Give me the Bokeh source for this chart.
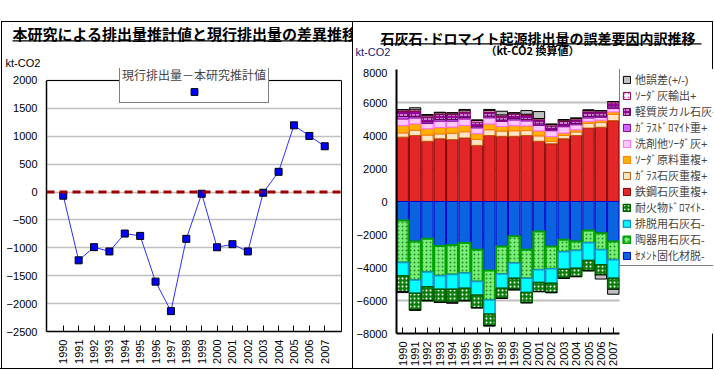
import math
from bokeh.plotting import figure
from bokeh.models import (ColumnDataSource, Range1d, Label, Legend,
                          LegendItem, Span, FixedTicker, LinearAxis, BoxAnnotation)
from bokeh.layouts import gridplot
from bokeh.embed import file_html
from bokeh.resources import INLINE

# ---------------- data ----------------
years = [str(y) for y in range(1990, 2008)]

# left chart: current emissions - this study's estimate (kt-CO2)
diff = [-65, -1224, -988, -1065, -744, -786, -1606, -2135, -839, -30,
        -990, -935, -1065, -12, 363, 1196, 1006, 821]
left_y_ticks = [2000, 1500, 1000, 500, 0, -500, -1000, -1500, -2000, -2500]
left_y_labels = ["2000", "1500", "1000", "500", "0", "−500", "−1000",
                 "−1500", "−2000", "−2500"]

# right chart: error factor breakdown (kt-CO2)
steel      = [3900, 4000, 3650, 3800, 3750, 3850, 3400, 4000, 3950, 3950,
              4000, 3650, 3500, 3800, 4000, 4450, 4500, 4900]
glass_lime = [260, 320, 380, 300, 380, 380, 360, 350, 320, 340,
              300, 330, 150, 200, 220, 280, 300, 380]
soda_raw   = [440, 380, 380, 380, 380, 380, 350, 350, 280, 300,
              280, 300, 280, 150, 130, 130, 130, 150]
detergent  = [400, 360, 320, 390, 360, 390, 350, 370, 300, 350,
              300, 330, 360, 380, 300, 200, 170, 200]
glass_dol  = [150, 100, 100, 100, 100, 100, 100, 100, 80, 100,
              90, 90, 90, 100, 80, 90, 80, 100]
light_cal  = [300, 300, 300, 300, 300, 300, 250, 250, 240, 250,
              240, 250, 200, 220, 220, 280, 240, 250]
soda_export = [110, 100, 100, 100, 100, 100, 100, 100, 80, 80,
               80, 80, 80, 80, 80, 80, 80, 80]
other_err  = [-60, 120, 40, 40, -60, 80, 40, 60, 220, -50,
              220, 420, 40, 40, 40, 50, -250, -300]
cement     = [-1150, -2420, -2260, -2700, -2630, -2520, -2920, -4180, -2720, -2100,
              -2920, -1820, -2720, -2320, -2420, -1760, -1920, -2420]
ceramic    = [-2550, -2330, -2020, -1800, -1790, -1820, -1930, -1790, -1680, -1630,
              -1730, -2310, -1360, -730, -550, -740, -1000, -1110]
desulf     = [-800, -810, -880, -820, -900, -920, -810, -850, -860, -920,
              -870, -780, -880, -1050, -1070, -1080, -920, -1120]
refractory = [-960, -1020, -850, -790, -790, -750, -780, -710, -610, -670,
              -610, -550, -560, -550, -510, -610, -610, -670]
right_y_ticks = [8000, 6000, 4000, 2000, 0, -2000, -4000, -6000, -8000]
right_y_labels = ["8000", "6000", "4000", "2000", "0", "−2000", "−4000",
                  "−6000", "−8000"]

legend_labels = {
    "other": "他誤差(+/-)",
    "soda_export": "ｿｰﾀﾞ灰輸出+",
    "light_cal": "軽質炭カル石灰+",
    "glass_dol": "ｶﾞﾗｽﾄﾞﾛﾏｲﾄ重+",
    "detergent": "洗剤他ｿｰﾀﾞ灰+",
    "soda_raw": "ｿｰﾀﾞ原料重複+",
    "glass_lime": "ｶﾞﾗｽ石灰重複+",
    "steel": "鉄鋼石灰重複+",
    "refractory": "耐火物ﾄﾞﾛﾏｲﾄ-",
    "desulf": "排脱用石灰石-",
    "ceramic": "陶器用石灰石-",
    "cement": "ｾﾒﾝﾄ固化材脱-",
}
left_title = "本研究による排出量推計値と現行排出量の差異推移"
left_legend_title = "現行排出量－本研究推計値"
right_title = "石灰石･ドロマイト起源排出量の誤差要因内訳推移"
right_subtitle = "（kt-CO2 換算値）"
unit_text = "kt-CO2"

JP = "Noto Sans CJK JP"
JP_COMPACT = "Liberation Sans, Noto Sans CJK JP"
NUM = "Liberation Sans"
HH = 68          # header height (includes blank strip above the chart boxes)
CH = 301         # chart figure height
LW, RW = 352, 361

G = "linear-gradient(#000,#000)"
def bg(*parts):
    return {"background": ", ".join(f"{G} {p} no-repeat" for p in parts)}


def no_align(f):
    if "frame_align" in f.properties():
        f.frame_align = False


def header(width, styles):
    h = figure(width=width, height=HH, output_backend="svg", toolbar_location=None,
               x_range=Range1d(0, 1), y_range=Range1d(0, 1),
               x_axis_type=None, y_axis_type=None, min_border=0)
    h.grid.visible = False
    h.outline_line_color = None
    h.title.visible = False
    h.border_fill_alpha = 0
    h.background_fill_alpha = 0
    h.styles = styles
    no_align(h)
    return h


def text(p, x, y, s, font, size, bold=False, align="left", color="black"):
    p.add_layout(Label(x=x, y=y, x_units="screen", y_units="screen", text=s,
                       text_font=font, text_font_size=size,
                       text_font_style="bold" if bold else "normal",
                       text_baseline="middle", text_align=align, text_color=color))


def underline(p, x0, x1, y):
    p.add_layout(BoxAnnotation(left=x0, right=x1, bottom=y, top=y + 1.3,
                               left_units="screen", right_units="screen",
                               top_units="screen", bottom_units="screen",
                               fill_color="black", fill_alpha=1, line_color=None))


def style_axes(p, width):
    for ax in (p.xaxis, p.yaxis):
        ax.major_label_text_font = NUM
        ax.major_label_text_font_size = "11px"
        ax.major_label_text_color = "black"
        ax.axis_line_color = "black"
        ax.axis_line_width = width
        ax.major_tick_line_color = "black"
    p.yaxis.major_tick_out = 0
    p.yaxis.major_tick_in = 0
    p.yaxis.minor_tick_out = 0
    p.yaxis.minor_tick_in = 0
    p.yaxis.major_label_standoff = 9
    p.xaxis.major_label_orientation = math.pi / 2
    p.xaxis.major_tick_in = 6
    p.xaxis.major_tick_out = 0
    p.xaxis.minor_tick_in = 0
    p.xaxis.minor_tick_out = 0
    p.xaxis.major_label_standoff = 8


idx = list(range(len(years)))

# ---------------- left chart ----------------
h1 = header(LW, bg("1px 21px / 100% 1px", "1px 21px / 1px 100%"))
text(h1, 12, HH - 33, left_title, JP, "15px", bold=True)
underline(h1, 12, LW, HH - 41)
text(h1, 5, HH - 62, unit_text, NUM, "11px")

ymin, ymax = min(left_y_ticks), max(left_y_ticks)
p1 = figure(width=LW, height=CH, output_backend="svg", toolbar_location=None,
            x_range=Range1d(-1.09, len(years) - 1 + 1.09),
            y_range=Range1d(ymin, ymax + 215),
            min_border_left=46, min_border_right=11, min_border_top=0,
            min_border_bottom=38)
no_align(p1)
p1.styles = bg("1px 0px / 1px 100%", "0px 100% / 100% 1px")
p1.border_fill_alpha = 0
p1.title.visible = False
p1.outline_line_color = None
p1.xgrid.visible = False
p1.ygrid.grid_line_color = "#C0C0C0"
p1.ygrid.grid_line_width = 1.5
p1.yaxis.ticker = FixedTicker(ticks=left_y_ticks)
p1.yaxis.bounds = (ymin, ymax)
p1.yaxis.major_label_overrides = dict(zip(left_y_ticks, left_y_labels))
p1.xaxis.ticker = FixedTicker(ticks=idx)
p1.xaxis.major_label_overrides = dict(zip(idx, years))
style_axes(p1, 1.5)

rax = LinearAxis(ticker=FixedTicker(ticks=[]), bounds=(ymin, ymax),
                 axis_line_color="black", axis_line_width=1,
                 major_tick_out=0, minor_tick_out=0)
p1.add_layout(rax, "right")
p1.add_layout(Span(location=ymax, dimension="width", line_color="black", line_width=1))
p1.add_layout(Span(location=0, dimension="width", line_color="#A00000",
                   line_width=3, line_dash="8 5"))
p1.line(idx, diff, line_color="#2F2FFF", line_width=1)
sq = p1.scatter(idx, diff, marker="square", size=7, fill_color="#0000FF",
                line_color="black", line_width=1)

lg1 = Legend(items=[LegendItem(label="", renderers=[sq])],
             title=left_legend_title, location=(73, 228),
             title_text_font=JP, title_text_font_size="12px",
             title_text_font_style="normal", title_standoff=0,
             glyph_width=144, glyph_height=17, label_height=17, label_width=0,
             label_standoff=0, padding=2, spacing=0, margin=0,
             border_line_color="black", border_line_width=1,
             background_fill_color="white", background_fill_alpha=1)
p1.add_layout(lg1)

# ---------------- right chart ----------------
h2 = header(RW, bg("0px 21px / 100% 1px", "0px 21px / 1px 100%", "360px 21px / 1px 100%"))
text(h2, 28, HH - 37, right_title, JP, "14px", bold=True)
underline(h2, 28, 349, HH - 44)
text(h2, 180, HH - 49, right_subtitle, JP, "11px", bold=True, align="center")
text(h2, 3, HH - 51, unit_text, NUM, "11px", color="#1A1A70")

src = ColumnDataSource(dict(
    x=idx, steel=steel, glass_lime=glass_lime, soda_raw=soda_raw,
    detergent=detergent, glass_dol=glass_dol, light_cal=light_cal,
    soda_export=soda_export,
    other_pos=[max(v, 0) for v in other_err],
    other_neg=[min(v, 0) for v in other_err],
    cement=cement, ceramic=ceramic, desulf=desulf, refractory=refractory))

# plot frame runs to the right edge; the area right of the bars holds the legend
FRAME_BARS_PX = 223
LEGEND_PX = RW - 44 - FRAME_BARS_PX
n = len(years)
x_end = n - 0.5 + LEGEND_PX * n / FRAME_BARS_PX
p2 = figure(width=RW, height=CH, output_backend="svg", toolbar_location=None,
            x_range=Range1d(-0.5, x_end),
            y_range=Range1d(min(right_y_ticks), max(right_y_ticks)),
            min_border_left=44, min_border_right=0, min_border_top=1,
            min_border_bottom=36)
no_align(p2)
p2.styles = bg("0px 0px / 1px 100%", "360px 0px / 1px 100%", "0px 100% / 100% 1px")
p2.border_fill_alpha = 0
p2.title.visible = False
p2.outline_line_color = None
p2.xgrid.visible = False
p2.ygrid.grid_line_color = "#C0C0C0"
p2.ygrid.grid_line_width = 2
p2.yaxis.ticker = FixedTicker(ticks=right_y_ticks)
p2.yaxis.major_label_overrides = dict(zip(right_y_ticks, right_y_labels))
p2.xaxis.ticker = FixedTicker(ticks=idx)
p2.xaxis.major_label_overrides = dict(zip(idx, years))
p2.xaxis.bounds = (-0.5, n - 0.5)
style_axes(p2, 2)

# blank out grid lines in the legend area
p2.add_layout(BoxAnnotation(left=n - 0.5, fill_color="white", fill_alpha=1,
                            line_color=None, level="underlay"))

pos_keys = ["steel", "glass_lime", "soda_raw", "detergent", "glass_dol",
            "light_cal", "soda_export", "other_pos"]
pos_fill = ["#E32626", "#FFE4C4", "#FFB000", "#FFC8FF", "#CC66FF",
            "#990099", "#FFFFFF", "#C0C0C0"]
pos_line = ["#7F0000", "#C05A00", "#FF7F00", "#FF66FF", "#800080",
            "#600060", "#800040", "#000000"]
pos_hatch = [" ", " ", " ", " ", " ", '"', ".", " "]
pos_hcolor = ["white", "white", "white", "white", "white", "white", "#FF55CC", "white"]
pos_r = p2.vbar_stack(pos_keys, x="x", width=0.92, source=src,
                      fill_color=pos_fill, line_color=pos_line, line_width=1,
                      hatch_pattern=pos_hatch, hatch_color=pos_hcolor,
                      hatch_scale=4, hatch_weight=1)

neg_keys = ["cement", "ceramic", "desulf", "refractory", "other_neg"]
neg_fill = ["#0A64E0", "#78F078", "#00FFFF", "#0A800A", "#C0C0C0"]
neg_line = ["#0000C8", "#00A000", "#1E90C8", "#006000", "#000000"]
neg_width = [1, 2, 1.5, 1.5, 1]
neg_hatch = [" ", ".", " ", ".", " "]
neg_hcolor = ["white", "#2E8B2E", "white", "white", "white"]
neg_r = p2.vbar_stack(neg_keys, x="x", width=0.92, source=src,
                      fill_color=neg_fill, line_color=neg_line, line_width=neg_width,
                      hatch_pattern=neg_hatch, hatch_color=neg_hcolor,
                      hatch_scale=4, hatch_weight=1)

rmap = dict(zip(pos_keys, pos_r))
rmap.update(dict(zip(neg_keys, neg_r)))
order = ["other", "soda_export", "light_cal", "glass_dol", "detergent", "soda_raw",
         "glass_lime", "steel", "refractory", "desulf", "ceramic", "cement"]
items = []
for k in order:
    r = rmap["other_pos"] if k == "other" else rmap[k]
    items.append(LegendItem(label=legend_labels[k], renderers=[r]))
lg2 = Legend(items=items, location=(FRAME_BARS_PX, 67),
             label_text_font=JP_COMPACT, label_text_font_size="11px",
             glyph_width=9, glyph_height=9, label_height=12, label_standoff=4,
             spacing=0, padding=2, margin=0,
             border_line_color="black", border_line_width=1,
             background_fill_color="white", background_fill_alpha=1)
p2.add_layout(lg2)

layout = gridplot([[h1, h2], [p1, p2]], toolbar_location=None)
open("out.html", "w").write(file_html(layout, INLINE))
